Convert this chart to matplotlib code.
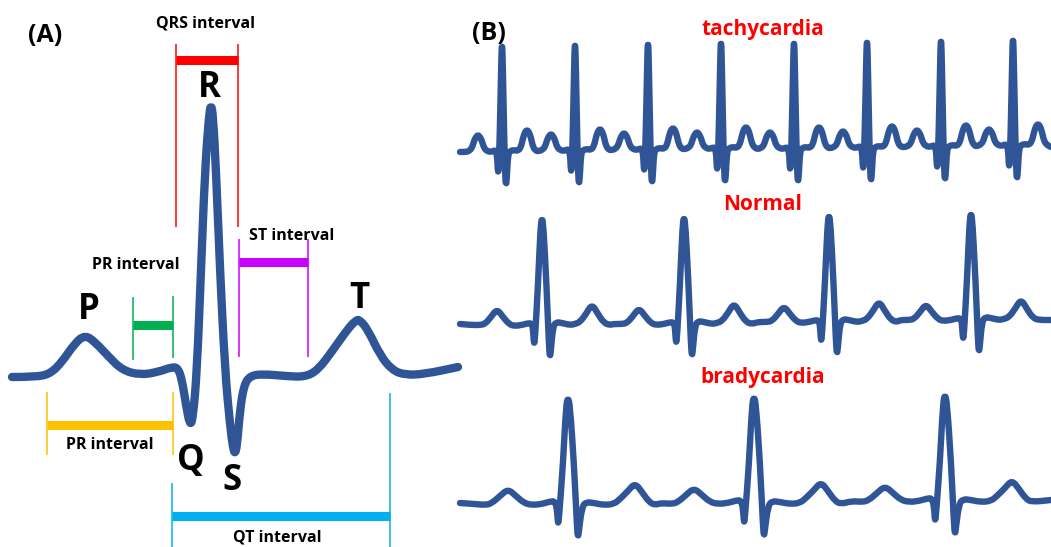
import numpy as np
import matplotlib
matplotlib.use('Agg')
import matplotlib.pyplot as plt
from matplotlib.path import Path
from matplotlib.patches import PathPatch

plt.rcParams['font.family'] = ['Open Sans', 'DejaVu Sans']

ECG_BLUE = '#2F5597'

# ---- panel A: one ECG beat (pixel coords) ----
beat_x = [12, 35, 50, 62, 75, 85, 95, 108, 122, 140, 158, 172, 178, 182, 186, 190, 193,
          197, 201, 205, 209, 211, 213, 216, 220, 225, 230, 233, 235, 237, 240, 244, 250,
          262, 285, 305, 318, 333, 347, 356, 360, 368, 380, 392, 405, 425, 458]
beat_y = [377, 377, 374, 362, 343, 335, 342, 356, 370, 375, 372, 367, 368, 380, 405, 426, 418,
          370, 270, 170, 115, 104, 115, 170, 270, 370, 425, 448, 454, 446, 410, 385, 376,
          374, 376, 377, 370, 350, 330, 320, 320, 330, 355, 370, 375, 374, 367]

# interval brackets in panel A
iv_color = ['#FF0000', '#CC00FF', '#00B050', '#FFC000', '#00B0F0']
iv_start = [176, 239, 133, 47, 172]
iv_end = [238, 308, 173, 173, 390]
iv_bar_y = [60, 262, 325, 425, 516]
iv_left_tick = [(44, 227), (239, 357), (297, 360), (392, 455), (483, 547)]
iv_right_tick = [(44, 227), (239, 357), (296, 358), (392, 455), (393, 547)]

# text labels in panel A: (text, x, y, size)
labels_a = [('(A)', 45, 36, 18), ('QRS interval', 206, 23, 11.5), ('R', 209, 88, 25),
            ('ST interval', 292, 236, 11.5), ('PR interval', 136, 265, 11.5), ('P', 89, 310, 25),
            ('T', 359, 299, 25), ('PR interval', 110, 445, 11.5), ('Q', 191, 461, 25),
            ('S', 232, 481, 25), ('QT interval', 277, 538, 11.5)]

# ---- panel B: beat templates (offset from R peak, offset from baseline) ----
tachy_dx = [-36, -33, -30, -28, -26, -24, -22, -20, -18, -15, -11, -7, -5, -4, -3, -1.5, -0.5,
            0, 0.5, 1.5, 3, 4, 5, 6, 8, 12, 16, 19, 21, 23, 25, 27, 29, 31, 34]
tachy_dy = [1, 0, -3, -10, -14, -16, -14, -10, -3, 0, 1, -1, 2, 24, 14, -50, -100,
            -106, -100, -50, 22, 36, 24, 4, 0, -1, 0, -4, -13, -19, -21, -19, -13, -4, 0]
tachy_r = [502, 575, 648, 721, 794, 867, 941, 1013]
tachy_base = [151, 150, 149, 148, 148, 147, 146, 145]

normal_dx = [-71, -62, -57, -51, -45, -39, -33, -28, -20, -13, -10, -9, -8, -7, -4, -1.5, 0,
             1.5, 4.5, 7, 8, 9, 11, 14, 20, 28, 33, 38, 44, 50, 56, 62, 68]
normal_dy = [0, 0, -1, -8, -16, -8, -1, 1, 0, -2, -1, 4, 20, 14, -40, -98, -108,
             -98, -40, 22, 33, 24, 2, -3, -2, 0, -1, -3, -11, -21, -11, -2, 0]
normal_r = [542, 684, 829, 971]
normal_base = [325, 324, 322, 320]

brady_dx = [-93, -82, -76, -68, -60, -52, -44, -36, -26, -16, -13, -11, -10, -9, -5, -2, 0,
            2, 6, 9, 10, 11, 14, 18, 26, 36, 46, 52, 60, 67, 74, 81, 87]
brady_dy = [0, 1, -1, -8, -15, -8, -1, 1, 0, -3, -2, 5, 21, 14, -40, -98, -107,
            -98, -40, 24, 34, 26, 3, -2, -1, 1, 0, -5, -13, -21, -12, -2, 1]
brady_r = [568, 754, 945]
brady_base = [504, 503, 501]

rhythm_names = ['tachycardia', 'Normal', 'bradycardia']
rhythm_label_y = [30, 205, 378]
trace_ends = [((460, 152), (1051, 147)), ((460, 324), (1051, 320)), ((460, 503), (1051, 500))]


def smooth_path(xs, ys):
    # quadratic bezier through midpoints, points act as control points
    pts = np.column_stack([xs, ys]).astype(float)
    verts = [pts[0]]
    codes = [Path.MOVETO]
    for i in range(1, len(pts) - 1):
        verts += [pts[i], (pts[i] + pts[i + 1]) / 2]
        codes += [Path.CURVE3, Path.CURVE3]
    verts.append(pts[-1])
    codes.append(Path.LINETO)
    return Path(verts, codes)


def build_trace(dx, dy, r_list, base_list, ends):
    xs = [ends[0][0]]
    ys = [ends[0][1]]
    for r, b in zip(r_list, base_list):
        xs += [r + d for d in dx]
        ys += [b + d for d in dy]
    xs.append(ends[1][0])
    ys.append(ends[1][1])
    return xs, ys


fig = plt.figure(figsize=(10.51, 5.47), dpi=100)
ax = fig.add_axes([0, 0, 1, 1])
ax.set_xlim(0, 1051)
ax.set_ylim(547, 0)
ax.axis('off')

# brackets
for c, x0, x1, yb, lt, rt in zip(iv_color, iv_start, iv_end, iv_bar_y, iv_left_tick, iv_right_tick):
    ax.plot([x0, x0], lt, color=c, lw=1.1, solid_capstyle='butt')
    ax.plot([x1, x1], rt, color=c, lw=1.1, solid_capstyle='butt')
    ax.plot([x0, x1], [yb, yb], color=c, lw=6.5, solid_capstyle='butt')

ax.add_patch(PathPatch(smooth_path(beat_x, beat_y), fill=False, edgecolor=ECG_BLUE,
                       lw=6, capstyle='round', joinstyle='round'))

for txt, x, y, s in labels_a:
    ax.text(x, y, txt, ha='center', va='center', fontsize=s, fontweight='bold', color='black')

# panel B
ax.text(489, 33, '(B)', ha='center', va='center', fontsize=18, fontweight='bold', color='black')
templates = [(tachy_dx, tachy_dy, tachy_r, tachy_base),
             (normal_dx, normal_dy, normal_r, normal_base),
             (brady_dx, brady_dy, brady_r, brady_base)]
for (dx, dy, rr, bb), ends, name, ly in zip(templates, trace_ends, rhythm_names, rhythm_label_y):
    xs, ys = build_trace(dx, dy, rr, bb, ends)
    ax.add_patch(PathPatch(smooth_path(xs, ys), fill=False, edgecolor=ECG_BLUE,
                           lw=4.6, capstyle='round', joinstyle='round'))
    ax.text(763, ly, name, ha='center', va='center', fontsize=15, fontweight='bold', color='#FF0000')

fig.savefig('out.png', dpi=100)
